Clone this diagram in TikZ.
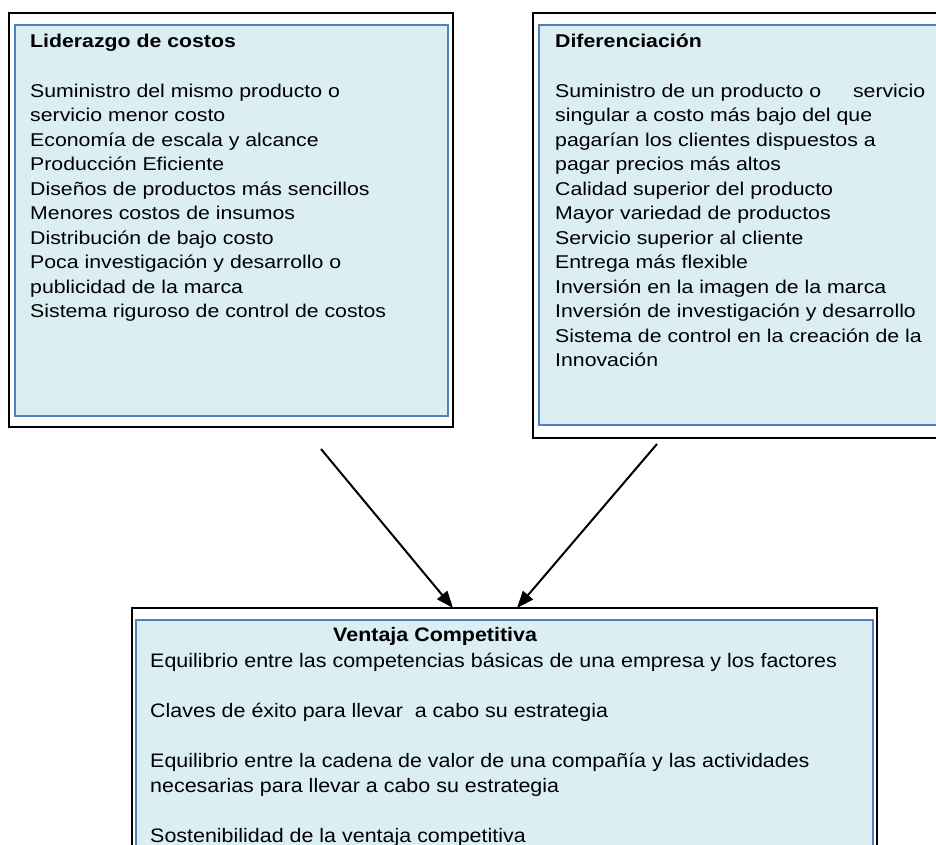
\documentclass[tikz,border=0pt]{standalone}
\usepackage{fontspec}
\setmainfont{Liberation Sans}
\newfontfamily\boxfont[FakeStretch=1.15]{Liberation Sans}
\newfontfamily\ventfont[FakeStretch=1.1]{Liberation Sans}
\usetikzlibrary{arrows.meta}
\definecolor{panelfill}{HTML}{DAEEF3}
\definecolor{panelline}{HTML}{4F81BD}

\begin{document}
\begin{tikzpicture}[x=1pt,y=-1pt,
		frame/.style={draw=black,line width=2pt,inner sep=0pt,outer sep=0pt,anchor=north west},
		panel/.style={draw=panelline,fill=panelfill,line width=1.5pt,inner sep=0pt,outer sep=0pt,anchor=north west},
		toptxt/.style={anchor=base west,inner sep=0pt,align=left,font=\boxfont\fontsize{18.5}{24.5}\selectfont},
		bottxt/.style={anchor=base west,inner sep=0pt,align=left,font=\ventfont\fontsize{19.5}{25}\selectfont},
		arr/.style={line width=2pt,-{Triangle[length=17pt,width=13pt]}}]
			\useasboundingbox (0,0) rectangle (936,845);
			\clip (0,0) rectangle (936,845);
			% the two strategy boxes
			\node[frame,minimum width=444pt,minimum height=414pt] (liderazgoFrame) at (9,13) {};
			\node[panel,minimum width=433pt,minimum height=391pt] (liderazgo) at (15,25) {};
			\node[frame,minimum width=418pt,minimum height=425pt] (diferFrame) at (533,13) {};
			\node[panel,minimum width=406pt,minimum height=400pt] (difer) at (539,25) {};
			% the result box, cut off at the bottom
			\node[frame,minimum width=745pt,minimum height=260pt] (ventajaFrame) at (132,608) {};
			\node[panel,minimum width=737pt,minimum height=240pt] (ventaja) at (136,620) {};
			% texts (base = baseline of the last line)
			\node[toptxt] (lidTitle) at (30,47.7) {\bfseries Liderazgo de costos};
			\node[toptxt] (lidText) at (30,317.5) {Suministro del mismo producto o\\
				servicio menor costo\\
				Economía de escala y alcance\\
				Producción Eficiente\\
				Diseños de productos más sencillos\\
				Menores costos de insumos\\
				Distribución de bajo costo\\
				Poca investigación y desarrollo o\\
				publicidad de la marca\\
				Sistema riguroso de control de costos};
			\node[toptxt] (difTitle) at (555,47.7) {\bfseries Diferenciación};
			\node[toptxt] (difText) at (555,366.5) {\makebox[370pt][l]{Suministro de un producto o\hfill servicio}\\
				singular a costo más bajo del que\\
				pagarían los clientes dispuestos a\\
				pagar precios más altos\\
				Calidad superior del producto\\
				Mayor variedad de productos\\
				Servicio superior al cliente\\
				Entrega más flexible\\
				Inversión en la imagen de la marca\\
				Inversión de investigación y desarrollo\\
				Sistema de control en la creación de la\\
				Innovación};
			\node[bottxt] (ventTitle) at (333,641) {\bfseries Ventaja Competitiva};
			\node[bottxt] (ventText) at (150,842) {Equilibrio entre las competencias básicas de una empresa y los factores\\[25pt]
				Claves de éxito para llevar\ \ a cabo su estrategia\\[25pt]
				Equilibrio entre la cadena de valor de una compañía y las actividades\\
				necesarias para llevar a cabo su estrategia\\[25pt]
				Sostenibilidad de la ventaja competitiva};
			% arrows into the result box
			\coordinate (fromLid) at (321,449);
			\coordinate (fromDif) at (657,444);
			\draw[arr] (fromLid) -- (453,0 |- ventajaFrame.north);
			\draw[arr] (fromDif) -- (517,0 |- ventajaFrame.north);
		\end{tikzpicture}
\end{document}
